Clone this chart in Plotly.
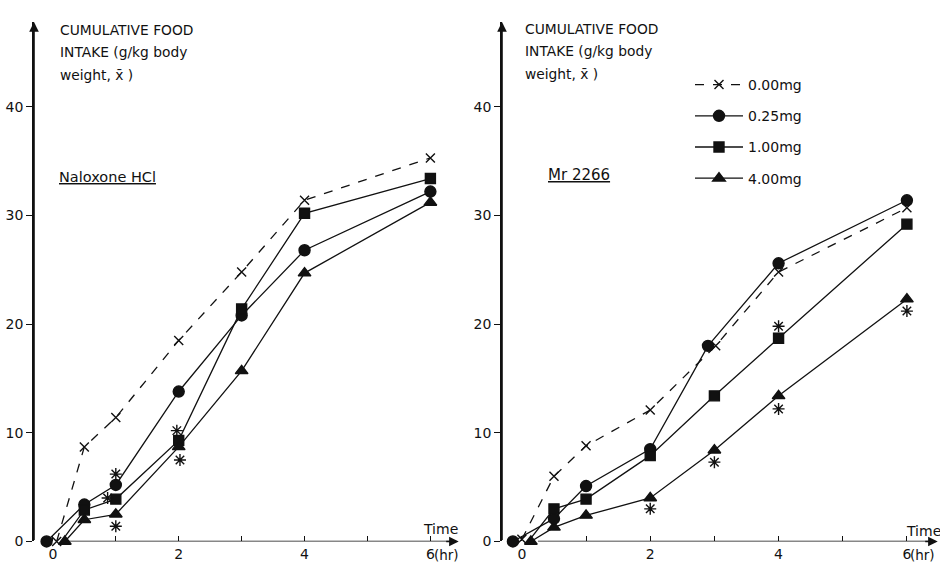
import plotly.graph_objects as go

# ---------------- data ----------------
doses = ["0.00mg", "0.25mg", "1.00mg", "4.00mg"]

# Left panel: Naloxone HCl  (time in hr, cumulative intake g/kg)
nal_t_000 = [0.06, 0.5, 1, 2, 3, 4, 6]
nal_y_000 = [0.0, 8.7, 11.4, 18.5, 24.8, 31.4, 35.3]
nal_t_025 = [-0.10, 0.5, 1, 2, 3, 4, 6]
nal_y_025 = [0.0, 3.4, 5.2, 13.8, 20.8, 26.8, 32.2]
nal_t_100 = [0.03, 0.5, 1, 2, 3, 4, 6]
nal_y_100 = [-0.85, 2.9, 3.9, 9.3, 21.4, 30.2, 33.4]
nal_t_400 = [0.19, 0.5, 1, 2, 3, 4, 6]
nal_y_400 = [0.0, 2.0, 2.5, 8.7, 15.7, 24.7, 31.2]
nal_sig_t = [1.0, 0.87, 1.0, 1.97, 2.02]
nal_sig_y = [6.2, 4.0, 1.4, 10.2, 7.5]

# Right panel: Mr 2266
mr_t_000 = [0.0, 0.5, 1, 2, 3.02, 4, 6]
mr_y_000 = [0.2, 6.0, 8.8, 12.1, 18.0, 24.8, 30.7]
mr_t_025 = [-0.14, 0.5, 1, 2, 2.9, 4, 6]
mr_y_025 = [0.0, 2.1, 5.1, 8.5, 18.0, 25.6, 31.4]
mr_t_100 = [0.0, 0.5, 1, 2, 3, 4, 6]
mr_y_100 = [-0.75, 3.0, 3.9, 7.9, 13.4, 18.7, 29.2]
mr_t_400 = [0.14, 0.5, 1, 2, 3, 4, 6]
mr_y_400 = [0.0, 1.3, 2.4, 4.0, 8.4, 13.4, 22.3]
mr_sig_t = [2.0, 3.0, 4.0, 4.0, 6.0]
mr_sig_y = [3.0, 7.3, 12.2, 19.8, 21.2]

y_ticks = [0, 10, 20, 30, 40]
x_ticks = [0, 1, 2, 3, 4, 5, 6]
x_ticktext = ["0", "", "2", "", "4", "", "6"]

# ---------------- styling ----------------
INK = "#111111"
FONT = "DejaVu Sans"
W, H = 940, 569
KY = 1.017          # vertical compensation for the page capture


def px(xr):                 # pixel -> paper fraction
    return xr / W


def py(yr):
    return 1 - yr * KY / H


styles = {
    "0.00mg": dict(symbol="x-thin-open", size=9, dash="dash"),
    "0.25mg": dict(symbol="circle", size=11, dash="solid"),
    "1.00mg": dict(symbol="square", size=10, dash="solid"),
    "4.00mg": dict(symbol="triangle-up", size=11, dash="solid"),
}

fig = go.Figure()

panels = [
    ("x", "y", [(nal_t_000, nal_y_000), (nal_t_025, nal_y_025),
                (nal_t_100, nal_y_100), (nal_t_400, nal_y_400)],
     nal_sig_t, nal_sig_y, True),
    ("x2", "y2", [(mr_t_000, mr_y_000), (mr_t_025, mr_y_025),
                  (mr_t_100, mr_y_100), (mr_t_400, mr_y_400)],
     mr_sig_t, mr_sig_y, False),
]

for xa, ya, series, sig_t, sig_y, show in panels:
    for name, (t, v) in zip(doses, series):
        st = styles[name]
        fig.add_trace(go.Scatter(
            x=t, y=v, xaxis=xa, yaxis=ya, name=name,
            mode="lines+markers", legendgroup=name, showlegend=show,
            line=dict(color=INK, width=1.3, dash=st["dash"]),
            marker=dict(symbol=st["symbol"], size=st["size"], color=INK,
                        line=dict(color=INK, width=1.4)),
            cliponaxis=False,
        ))
    fig.add_trace(go.Scatter(
        x=sig_t, y=sig_y, xaxis=xa, yaxis=ya, mode="markers",
        showlegend=False, cliponaxis=False,
        marker=dict(symbol="asterisk-open", size=10, color=INK,
                    line=dict(color=INK, width=1.4)),
    ))

y_dom = [py(540), py(22)]
ymax = 47.8
xl_rng = [-0.30, 6.55]
xr_rng = [-0.31, 6.50]

xaxis_common = dict(
    tickmode="array", tickvals=x_ticks, ticktext=x_ticktext,
    ticks="inside", ticklen=5, tickwidth=1.2, tickcolor=INK,
    showline=False, showgrid=False, zeroline=False, ticklabelstandoff=3,
    tickfont=dict(family=FONT, size=14, color=INK),
)
yaxis_common = dict(
    range=[0, ymax], domain=y_dom,
    tickmode="array", tickvals=y_ticks,
    ticks="outside", ticklen=6, tickwidth=1.2, tickcolor=INK,
    showline=True, linecolor=INK, linewidth=1.6,
    showgrid=False, zeroline=False,
    tickfont=dict(family=FONT, size=14, color=INK),
)

fig.update_layout(
    width=W, height=H,
    margin=dict(l=0, r=0, t=0, b=0),
    paper_bgcolor="white", plot_bgcolor="white",
    font=dict(family=FONT, color=INK),
    xaxis=dict(domain=[px(34), px(465)], range=xl_rng, anchor="y", **xaxis_common),
    yaxis=dict(anchor="x", **yaxis_common),
    xaxis2=dict(domain=[px(502), px(939)], range=xr_rng, anchor="y2", **xaxis_common),
    yaxis2=dict(anchor="x2", **yaxis_common),
    legend=dict(
        x=px(690), y=1 - 70 / H, xanchor="left", yanchor="top",
        bgcolor="rgba(0,0,0,0)", traceorder="grouped", tracegroupgap=10,
        font=dict(family=FONT, size=14, color=INK), itemwidth=48,
    ),
    showlegend=True,
)

shapes = []
ann = []
# axis lines with arrow heads
for xa, ya, x0, x1, xmin in [("x", "y", 0.2, 6.45, xl_rng[0]),
                             ("x2", "y2", 0.25, 6.48, xr_rng[0])]:
    shapes.append(dict(type="line", xref=xa, yref=ya, x0=x0, x1=x1 - 0.1, y0=0, y1=0,
                       line=dict(color=INK, width=1.6)))
    ann.append(dict(x=x1, y=0, ax=-14, ay=0.01, xref=xa, yref=ya,
                    showarrow=True, arrowhead=2, arrowsize=1.2, arrowwidth=1.6,
                    arrowcolor=INK, text=""))
    ann.append(dict(x=xmin, y=ymax, ax=xmin, ay=0, xref=xa, yref=ya,
                    axref=xa, ayref=ya, showarrow=True, arrowhead=2, arrowsize=1.2,
                    arrowwidth=1.6, arrowcolor=INK, text=""))
    ann.append(dict(x=6.02, y=0, xref=xa, yref=ya, text="(hr)", showarrow=False,
                    xanchor="left", yanchor="middle", yshift=-14,
                    font=dict(family=FONT, size=13.5, color=INK)))

ann.append(dict(x=px(460), y=py(528), xref="paper", yref="paper", text="Time",
                showarrow=False, xanchor="right", yanchor="middle",
                font=dict(family=FONT, size=14, color=INK)))
ann.append(dict(x=px(943), y=py(530), xref="paper", yref="paper", text="Time",
                showarrow=False, xanchor="right", yanchor="middle",
                font=dict(family=FONT, size=14, color=INK)))

title_lines = ["CUMULATIVE FOOD", "INTAKE (g/kg body", "weight, x\u0304 )"]
for x0, ys in [(58, [30, 52, 75]), (523, [29, 51, 74])]:
    for line, yy in zip(title_lines, ys):
        ann.append(dict(x=px(x0), y=py(yy), xref="paper", yref="paper",
                        text=line, showarrow=False, xanchor="left", yanchor="middle",
                        font=dict(family=FONT, size=13.8, color=INK)))

ann.append(dict(x=px(57), y=py(177), xref="paper", yref="paper",
                text="<u>Naloxone HCl</u>", showarrow=False, xanchor="left",
                yanchor="middle", font=dict(family=FONT, size=14.5, color=INK)))
ann.append(dict(x=px(546), y=py(175), xref="paper", yref="paper",
                text="<u>Mr 2266</u>", showarrow=False, xanchor="left",
                yanchor="middle", font=dict(family=FONT, size=15, color=INK)))

fig.update_layout(annotations=ann, shapes=shapes)
fig.write_html("out.html", config={"displayModeBar": False},
               post_script="document.body.style.margin='0';")
